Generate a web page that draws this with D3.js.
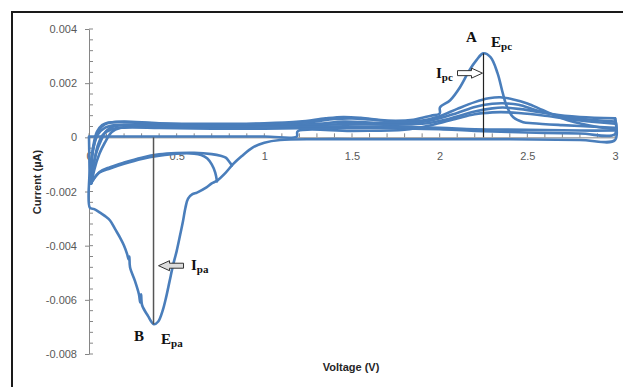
<!DOCTYPE html>
<html><head><meta charset="utf-8">
<script src="https://cdn.jsdelivr.net/npm/d3@7"></script>
<style>body{margin:0;background:#fff}svg{display:block}</style>
</head><body><svg id="c" width="623" height="387"></svg>
<script>
// ---------- data ----------
const xTicks = [0, 0.5, 1, 1.5, 2, 2.5, 3];
const xTickLabels = ["0", "0.5", "1", "1.5", "2", "2.5", "3"];
const yTicks = [0.004, 0.002, 0, -0.002, -0.004, -0.006, -0.008];
const yTickLabels = ["0.004", "0.002", "0", "-0.002", "-0.004", "-0.006", "-0.008"];
const xTitle = "Voltage (V)";
const yTitle = "Current (µA)";

// cycle 1 : cathodic peak B
const cycle1 = [[0.000,0.0000],[0.003,-0.0012],[0.005,-0.0026],[0.03,-0.00265],[0.063,-0.00278],[0.09,-0.0029],[0.12,-0.00307],[0.15,-0.0034],[0.177,-0.0037],[0.2,-0.0040],[0.217,-0.0043],[0.226,-0.0045],[0.230,-0.0044],[0.234,-0.0048],[0.262,-0.0053],[0.285,-0.0058],[0.292,-0.0061],[0.297,-0.0058],[0.303,-0.0062],[0.337,-0.0066],[0.37,-0.0069],[0.395,-0.0068],[0.42,-0.0064],[0.44,-0.0059],[0.46,-0.0053],[0.48,-0.0047],[0.50,-0.0042],[0.52,-0.0036],[0.536,-0.0031],[0.55,-0.0026],[0.565,-0.00226],[0.59,-0.0021],[0.616,-0.00204],[0.67,-0.00185],[0.70,-0.0017],[0.73,-0.0016],[0.78,-0.0013],[0.82,-0.0010],[0.87,-0.0007],[0.935,-0.00037],[1.0,-0.0002],[1.09,-0.0001],[1.3,-0.00007],[1.6,-0.00007],[2.0,-0.00007],[2.4,-0.00007],[2.8,-0.0001],[3.0,-0.0001],[3.0,0.0007]];
// cycle 2 : anodic peak A
const cycle2 = [[0.01,-0.0017],[0.012,-0.0012],[0.02,-0.0006],[0.035,-0.0001],[0.06,0.0003],[0.09,0.00048],[0.13,0.00055],[0.2,0.00058],[0.4,0.00052],[0.7,0.0005],[1.0,0.00052],[1.2,0.00058],[1.35,0.0007],[1.45,0.00075],[1.55,0.00072],[1.7,0.00062],[1.85,0.00065],[1.95,0.0008],[2.0,0.00088],[2.002,0.00111],[2.06,0.00137],[2.116,0.00185],[2.17,0.00248],[2.21,0.00285],[2.248,0.0031],[2.29,0.00296],[2.33,0.00237],[2.36,0.00163],[2.385,0.00111],[2.42,0.00074],[2.476,0.00056],[2.53,0.00052],[2.7,0.00045],[2.85,0.0004],[3.0,0.00035]];
const cycle3 = [[0.008,-0.0017],[0.01,-0.0013],[0.015,-0.0008],[0.025,-0.0003],[0.045,0.0002],[0.075,0.00045],[0.11,0.00055],[0.2,0.00056],[0.4,0.0005],[0.7,0.00048],[1.0,0.0005],[1.25,0.00056],[1.4,0.00068],[1.5,0.0007],[1.6,0.00066],[1.75,0.00058],[1.9,0.00062],[2.0,0.00078],[2.1,0.00105],[2.2,0.0013],[2.28,0.00144],[2.345,0.00148],[2.42,0.0014],[2.5,0.00125],[2.59,0.001],[2.73,0.00063],[2.91,0.00037],[3.0,0.0003]];
const cycle4 = [[0.012,-0.0017],[0.02,-0.0012],[0.04,-0.0006],[0.07,-0.0001],[0.1,0.00025],[0.14,0.0004],[0.2,0.00045],[0.5,0.00043],[0.8,0.00042],[1.0,0.00045],[1.3,0.0005],[1.45,0.00058],[1.6,0.00055],[1.8,0.00052],[1.95,0.00062],[2.1,0.0009],[2.2,0.00112],[2.3,0.00124],[2.36,0.00126],[2.45,0.0012],[2.55,0.001],[2.65,0.00085],[2.8,0.00075],[3.0,0.0007]];
const cycle5 = [[0.015,-0.0017],[0.03,-0.0012],[0.06,-0.0006],[0.09,-0.0002],[0.13,0.0002],[0.18,0.00035],[0.25,0.0004],[0.5,0.00038],[0.8,0.00037],[1.0,0.0004],[1.3,0.00045],[1.5,0.0005],[1.7,0.00047],[1.9,0.0005],[2.05,0.00068],[2.2,0.00095],[2.3,0.00107],[2.36,0.0011],[2.45,0.00105],[2.6,0.0009],[2.75,0.00072],[3.0,0.00058]];
const cycle6 = [[0.0,0.00003],[0.5,0.00003],[1.0,0.00003],[1.185,0.00003],[1.19,0.00022],[1.5,0.00024],[1.8,0.00028],[1.95,0.00045],[2.1,0.0007],[2.2,0.00085],[2.3,0.00092],[2.35,0.00093],[2.45,0.0009],[2.6,0.0008],[2.8,0.00062],[3.0,0.0005]];
// reverse sweeps
const return1 = [[3.0,0.0007],[3.0,0.00012],[2.8,0.00014],[2.5,0.00018],[2.2,0.00024],[2.0,0.0003],[1.8,0.00033],[1.5,0.00035],[1.2,0.00034],[1.0,0.00032],[0.7,0.00032],[0.4,0.00035],[0.2,0.00036],[0.13,0.0003],[0.08,0.0001],[0.05,-0.0003],[0.03,-0.0009],[0.015,-0.0014],[0.01,-0.0017]];
const return2 = [[3.0,0.00025],[2.8,0.00025],[2.5,0.00028],[2.2,0.0003],[2.0,0.00035],[1.6,0.0004],[1.2,0.0004],[0.8,0.0004],[0.4,0.00042],[0.15,0.00045],[0.09,0.00035],[0.05,0.0001],[0.025,-0.0004],[0.012,-0.001],[0.006,-0.0017]];
// small loops returning from 0.73 V and 0.82 V
const loop1 = [[0.73,-0.00163],[0.72,-0.0013],[0.70,-0.0010],[0.675,-0.00078],[0.64,-0.00065],[0.6,-0.0006],[0.5,-0.0006],[0.4,-0.00068],[0.3,-0.0008],[0.2,-0.00098],[0.12,-0.00115],[0.06,-0.0013],[0.02,-0.0016],[0.01,-0.0017]];
const loop2 = [[0.815,-0.00104],[0.80,-0.0009],[0.78,-0.00075],[0.75,-0.00068],[0.7,-0.00062],[0.6,-0.00057],[0.5,-0.00058],[0.4,-0.00063],[0.3,-0.00075],[0.2,-0.00093],[0.12,-0.0011],[0.06,-0.00128],[0.02,-0.0016],[0.01,-0.0017]];

const series = [cycle1, cycle2, cycle3, cycle4, cycle5, cycle6, return1, return2, loop1, loop2];

// peaks for annotation
const peakA = [2.25, 0.0031];
const peakB = [0.368, -0.0069];
const arrowIpcI = 0.00237;
const arrowIpaI = -0.00474;

// ---------- drawing ----------
const svg = d3.select("#c");
const x = d3.scaleLinear().domain([0, 3]).range([89, 615]);
const y = d3.scaleLinear().domain([-0.008, 0.004]).range([354, 29]);
const axisColor = "#868686";
const textColor = "#595959";
const blue = "#4a7ebb";

// frame
svg.append("rect").attr("x", 12).attr("y", 12).attr("width", 640).attr("height", 400)
  .attr("fill", "none").attr("stroke", "#1a1a1a").attr("stroke-width", 2);

// y axis
const yAxis = svg.append("g").attr("transform", `translate(${x(0)},0)`)
  .call(d3.axisLeft(y).tickValues(yTicks).tickFormat((d, i) => yTickLabels[i]).tickSizeInner(4).tickSizeOuter(0).tickPadding(8));
yAxis.select(".domain").attr("stroke", axisColor);
yAxis.selectAll(".tick line").attr("stroke", axisColor);
yAxis.selectAll("text").attr("fill", textColor).attr("font-family", "Liberation Sans, Arial, sans-serif").attr("font-size", 11);
const yMinor = d3.range(-0.008, 0.0040001, 0.0004);
svg.append("g").selectAll("line").data(yMinor).join("line")
  .attr("x1", x(0)).attr("x2", x(0) + 4).attr("y1", d => y(d)).attr("y2", d => y(d))
  .attr("stroke", axisColor).attr("stroke-width", 1);

// x axis at y = 0
const xAxis = svg.append("g").attr("transform", `translate(0,${y(0)})`)
  .call(d3.axisBottom(x).tickValues(xTicks).tickFormat((d, i) => xTickLabels[i]).tickSizeInner(0).tickSizeOuter(0).tickPadding(15));
xAxis.select(".domain").attr("stroke", axisColor);
xAxis.selectAll("text").attr("fill", textColor).attr("font-family", "Liberation Sans, Arial, sans-serif").attr("font-size", 11);
const xMinor = d3.range(0, 3.0001, 0.1);
svg.append("g").selectAll("line").data(xMinor).join("line")
  .attr("x1", d => x(d)).attr("x2", d => x(d)).attr("y1", y(0) - 4).attr("y2", y(0))
  .attr("stroke", axisColor).attr("stroke-width", 1);

// curves
const line = d3.line().x(d => x(d[0])).y(d => y(d[1])).curve(d3.curveCatmullRom.alpha(0.5));
svg.append("g").selectAll("path").data(series).join("path")
  .attr("d", line).attr("fill", "none").attr("stroke", blue)
  .attr("stroke-width", 2.6).attr("stroke-linejoin", "round").attr("stroke-linecap", "round");

// axis titles
svg.append("text").attr("x", 351).attr("y", 371).attr("text-anchor", "middle")
  .attr("font-family", "Liberation Sans, Arial, sans-serif").attr("font-weight", "bold").attr("font-size", 11)
  .attr("fill", "#262626").text(xTitle);
svg.append("text").attr("transform", "translate(41,182) rotate(-90)").attr("text-anchor", "middle")
  .attr("font-family", "Liberation Sans, Arial, sans-serif").attr("font-weight", "bold").attr("font-size", 11)
  .attr("fill", "#262626").text(yTitle);

// peak lines
svg.append("line").attr("x1", x(peakA[0])).attr("x2", x(peakA[0])).attr("y1", y(0)).attr("y2", y(peakA[1]))
  .attr("stroke", "#222").attr("stroke-width", 1.2);
svg.append("line").attr("x1", x(peakB[0])).attr("x2", x(peakB[0])).attr("y1", y(0)).attr("y2", y(peakB[1]))
  .attr("stroke", "#555").attr("stroke-width", 1.5);

// block arrows
function arrow(tipX, tipY, dir, fill) {
  const L = 25, H = 11, sh = 2.5, hh = 5;
  const p = [[0,0],[H,-hh],[H,-sh],[L,-sh],[L,sh],[H,sh],[H,hh]].map(([a,b]) => [tipX - dir*a, tipY + b]);
  svg.append("path").attr("d", "M" + p.map(q => q.join(",")).join("L") + "Z")
    .attr("fill", fill).attr("stroke", "#333").attr("stroke-width", 1);
}
arrow(x(peakA[0]) - 1, y(arrowIpcI), 1, "#fff");
arrow(x(peakB[0]) + 5, y(arrowIpaI), -1, "#ddd");

// labels with subscripts
function label(px, py, main, sub) {
  const t = svg.append("text").attr("x", px).attr("y", py)
    .attr("font-family", "Liberation Serif, Times New Roman, serif").attr("font-weight", "bold")
    .attr("font-size", 15).attr("fill", "#111");
  t.append("tspan").text(main);
  if (sub) t.append("tspan").attr("font-size", 11).attr("dy", 3).text(sub);
}
label(466, 42, "A");
label(491, 47, "E", "pc");
label(436, 78, "I", "pc");
label(134, 341, "B");
label(161, 344, "E", "pa");
label(191, 270, "I", "pa");
</script></body></html>
